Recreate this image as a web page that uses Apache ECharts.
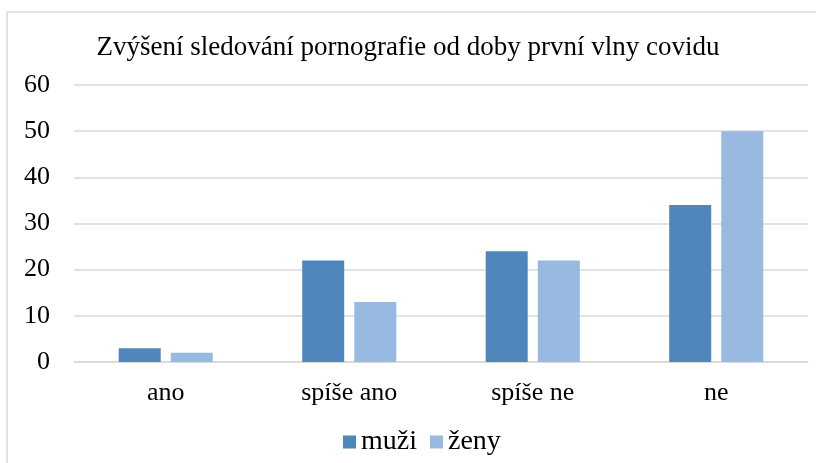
<!DOCTYPE html>
<html>
<head>
<meta charset="utf-8">
<script src="https://cdn.jsdelivr.net/npm/echarts@6/dist/echarts.min.js"></script>
<style>
  html, body { margin: 0; padding: 0; background: #fff; }
  #chart { width: 816px; height: 463px; }
</style>
</head>
<body>
<div id="chart"></div>
<script>
const categories = ["ano", "spíše ano", "spíše ne", "ne"];
const muzi = [3, 22, 24, 34];
const zeny = [2, 13, 22, 50];
const seriesNames = ["muži", "ženy"];

const serif = "'Liberation Serif', 'DejaVu Serif', serif";

let myChart = echarts.init(document.getElementById("chart"));
let option = {
  animation: false,
  title: {
    text: "Zvýšení sledování pornografie od doby první vlny covidu",
    left: "center",
    top: 29,
    textStyle: { fontFamily: serif, fontSize: 27, fontWeight: "normal", color: "#000" }
  },
  graphic: [{
    type: "rect",
    shape: { x: 7, y: 12, width: 830, height: 480 },
    style: { fill: "none", stroke: "#d9d9d9", lineWidth: 1.5 },
    silent: true
  }],
  color: ["#4f87bd", "#98b9e0"],
  legend: {
    data: seriesNames,
    top: 423,
    left: 338,
    itemWidth: 13,
    itemHeight: 13,
    itemGap: 13,
    icon: "rect",
    textStyle: { fontFamily: serif, fontSize: 28, color: "#000" }
  },
  grid: { left: 74, right: 8, top: 85, bottom: 101 },
  xAxis: {
    type: "category",
    data: categories,
    axisTick: { show: false },
    axisLine: { lineStyle: { color: "#d9d9d9", width: 1.5 } },
    axisLabel: { fontFamily: serif, fontSize: 26, color: "#000", margin: 18 }
  },
  yAxis: {
    type: "value",
    min: 0,
    max: 60,
    interval: 10,
    axisLine: { show: false },
    axisTick: { show: false },
    splitLine: { lineStyle: { color: "#d9d9d9", width: 1.5 } },
    axisLabel: { fontFamily: serif, fontSize: 26, color: "#000", margin: 24 }
  },
  series: [
    { name: seriesNames[0], type: "bar", data: muzi, barWidth: 42, barGap: "24%" },
    { name: seriesNames[1], type: "bar", data: zeny, barWidth: 42, barGap: "24%" }
  ]
};
myChart.setOption(option);
</script>
</body>
</html>
